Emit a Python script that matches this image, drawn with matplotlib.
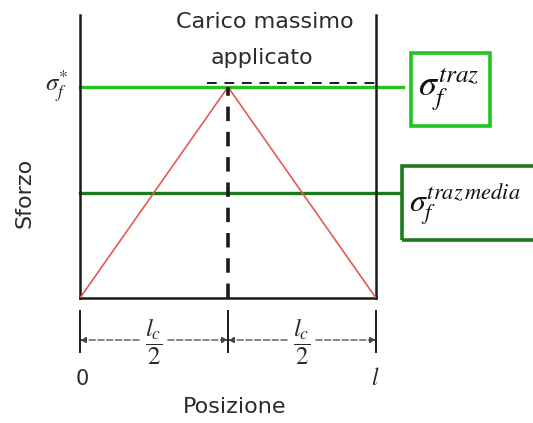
import matplotlib
matplotlib.use("Agg")
import matplotlib.pyplot as plt
from matplotlib.patches import Rectangle
from matplotlib.transforms import blended_transform_factory

# Stress distribution along a fibre under maximum load
position = [0.0, 0.5, 1.0]
stress = [0.0, 1.0, 0.0]
peak_stress = 1.0
mean_stress = 0.5

W, H = 533, 423
fig = plt.figure(figsize=(W / 100, H / 100), dpi=100)
fig.patch.set_facecolor("white")


def fx(px):
    return px / W


def fy(py):
    return 1 - py / H


TXT = "#2b2b2b"
BRIGHT = "#22c422"
DARK = "#1b7a1b"
RED = "#e25a55"

ax = fig.add_axes([fx(80), fy(298), (376 - 80) / W, (298 - 15) / H])
ax.set_xlim(0, 1)
ax.set_ylim(0, (298 - 15) / 211)
ax.spines["top"].set_visible(False)
for side in ("left", "right", "bottom"):
    ax.spines[side].set_color("#1a1a1a")
    ax.spines[side].set_linewidth(1.8)
ax.set_xticks([])
ax.set_yticks([])

# stress profile
ax.plot(position, stress, color=RED, lw=1.2, zorder=3)

# maximum and average stress levels
ax.plot([0, 1.091], [peak_stress, peak_stress], color=BRIGHT, lw=2.4,
        clip_on=False, zorder=2)
ax.plot([0, 1.081], [mean_stress, mean_stress], color=DARK, lw=2.4,
        clip_on=False, zorder=2)

# applied load marker
ax.plot([0.43, 1.0], [1.02, 1.02], color="#1a1a1a", lw=1.4,
        dashes=(5, 4), zorder=1)
ax.plot([0.5, 0.5], [0, peak_stress], color="#1a1a1a", lw=2.6,
        dashes=(4, 3), zorder=4)

fig.text(fx(265), fy(22), "Carico massimo", ha="center", va="center",
         fontsize=16, color=TXT)
fig.text(fx(262), fy(58), "applicato", ha="center", va="center",
         fontsize=16, color=TXT)

fig.text(fx(57), fy(86), r"$\sigma_f^{*}$", ha="center", va="center",
         fontsize=18, color=TXT, math_fontfamily="stix")

fig.text(fx(25), fy(193), "Sforzo", rotation=90, ha="center", va="center",
         fontsize=16, color=TXT)

# labelled boxes
fig.add_artist(Rectangle((fx(411), fy(126)), (490 - 411) / W, (126 - 53) / H,
                         transform=fig.transFigure, fill=False,
                         edgecolor=BRIGHT, lw=2.6))
fig.text(fx(418), fy(90), r"$\sigma_f^{traz}$", ha="left", va="center",
         fontsize=26, color="#111111", math_fontfamily="stix")

fig.add_artist(Rectangle((fx(402), fy(240)), (545 - 402) / W, (240 - 166) / H,
                         transform=fig.transFigure, fill=False,
                         edgecolor=DARK, lw=2.6, clip_on=False))
fig.text(fx(409), fy(204), r"$\sigma_f^{traz\,media}$", ha="left",
         va="center", fontsize=23, color="#111111", math_fontfamily="stix")

# length dimension below the axis
trans = blended_transform_factory(ax.transData, fig.transFigure)
ydim = fy(340)
for xp in position:
    ax.plot([xp, xp], [fy(311), fy(352)], color="#1a1a1a", lw=1.4,
            transform=trans, clip_on=False)
for a, b in ((0.0, 0.5), (0.5, 1.0)):
    ax.annotate("", xy=(a, ydim), xytext=(b, ydim),
                xycoords=("data", "figure fraction"),
                textcoords=("data", "figure fraction"),
                arrowprops=dict(arrowstyle="<|-|>", lw=0.9, color="#444444",
                                linestyle=(0, (5, 2)), shrinkA=0, shrinkB=0,
                                mutation_scale=9))
for xc in (0.25, 0.75):
    ax.text(xc, fy(342), r"$\dfrac{l_c}{2}$", ha="center", va="center",
            fontsize=18, color=TXT, math_fontfamily="stix",
            transform=trans,
            bbox=dict(boxstyle="square,pad=0.15", fc="white", ec="none"))

fig.text(fx(82), fy(379), "0", ha="center", va="center", fontsize=15,
         color=TXT)
fig.text(fx(375), fy(378), r"$l$", ha="center", va="center", fontsize=17,
         color=TXT, math_fontfamily="stix")
fig.text(fx(235), fy(407), "Posizione", ha="center", va="center",
         fontsize=16, color=TXT)

fig.savefig("out.png", dpi=100)
